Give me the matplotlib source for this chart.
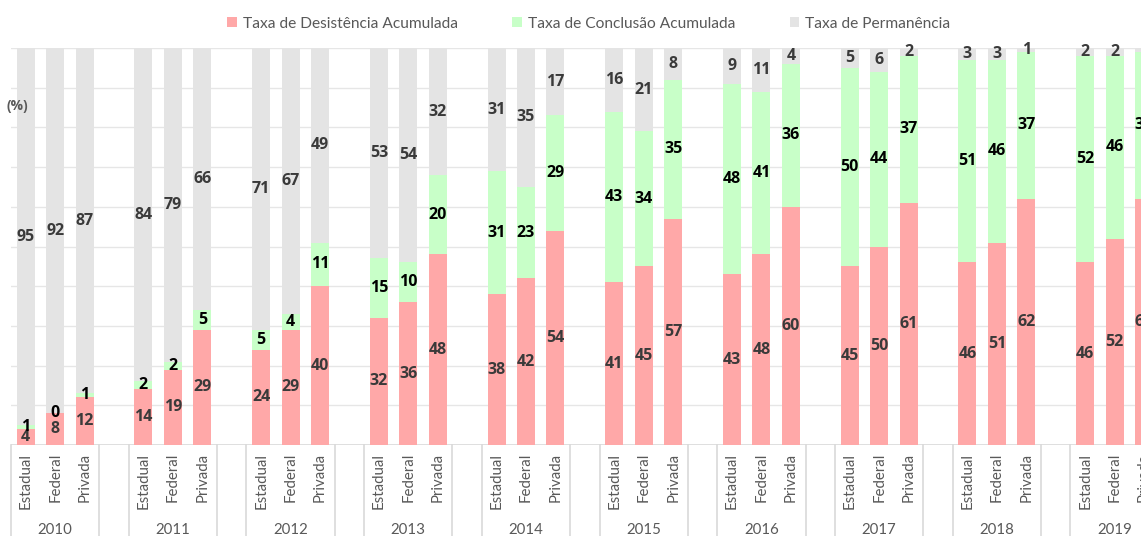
import matplotlib
matplotlib.use("Agg")
import matplotlib.pyplot as plt
import matplotlib.transforms as mtransforms
from matplotlib.patches import Patch

years = ["2010", "2011", "2012", "2013", "2014", "2015", "2016", "2017", "2018", "2019"]
categories = ["Estadual", "Federal", "Privada"]

# values per year, ordered Estadual, Federal, Privada
desistencia = [[4, 8, 12], [14, 19, 29], [24, 29, 40], [32, 36, 48], [38, 42, 54],
               [41, 45, 57], [43, 48, 60], [45, 50, 61], [46, 51, 62], [46, 52, 62]]
conclusao = [[1, 0, 1], [2, 2, 5], [5, 4, 11], [15, 10, 20], [31, 23, 29],
             [43, 34, 35], [48, 41, 36], [50, 44, 37], [51, 46, 37], [52, 46, 37]]
permanencia = [[95, 92, 87], [84, 79, 66], [71, 67, 49], [53, 54, 32], [31, 35, 17],
               [16, 21, 8], [9, 11, 4], [5, 6, 2], [3, 3, 1], [2, 2, 1]]

series_names = ["Taxa de Desistência Acumulada", "Taxa de Conclusão Acumulada", "Taxa de Permanência"]
colors = ["#FFA8A8", "#C8FFC8", "#E4E4E4"]
label_colors = ["#3A3A3A", "#000000", "#3A3A3A"]

W, H = 1141, 536
fig = plt.figure(figsize=(W / 100, H / 100), dpi=100)
slot = 29.43
left_px, top_px, bottom_px = 11, 48, 445
ax = fig.add_axes([left_px / W, (H - bottom_px) / H, 40 * slot / W, (bottom_px - top_px) / H])
ax.set_xlim(-0.5, 39.5)
ax.set_ylim(0, 100)

label_font = dict(family="Open Sans", fontstretch="condensed", fontweight="bold", fontsize=11.5)
text_font = "Lato"

for i, yr in enumerate(years):
    for j, cat in enumerate(categories):
        x = 4 * i + j
        vals = [desistencia[i][j], conclusao[i][j], permanencia[i][j]]
        bottom = 0
        for k, v in enumerate(vals):
            ax.bar(x, v, bottom=bottom, width=0.61, color=colors[k], zorder=2)
            ax.text(x, bottom + v / 2, str(v), ha="center", va="center",
                    color=label_colors[k], zorder=3, **label_font)
            bottom += v

# grid
for g in range(10, 101, 10):
    ax.axhline(g, color="#E6E6E6", lw=1, zorder=1)
ax.axhline(0, color="#D9D9D9", lw=1.2, zorder=1)

for s in ax.spines.values():
    s.set_visible(False)
ax.set_xticks([])
ax.set_yticks([])

trans = mtransforms.blended_transform_factory(ax.transData, ax.transAxes)
for i, yr in enumerate(years):
    for j, cat in enumerate(categories):
        ax.text(4 * i + j, -0.02, cat, rotation=90, ha="center", va="top",
                transform=trans, color="#595959", fontsize=10.8, family=text_font, clip_on=False)
    ax.text(4 * i + 1, -0.215, yr, ha="center", va="center", transform=trans,
            color="#595959", fontsize=10.8, family=text_font, clip_on=False)
    for xb in (4 * i - 0.5, 4 * i + 2.5):
        ax.plot([xb, xb], [0, -0.3], transform=trans, color="#D9D9D9", lw=1.2, clip_on=False)

ax.text(-0.64, 85.5, "(%)", ha="left", va="center", color="#595959",
        clip_on=False, **dict(label_font, fontsize=10))

handles = [Patch(facecolor=c, edgecolor="none") for c in colors]
fig.legend(handles, series_names, loc="center", bbox_to_anchor=(0.516, 0.956), ncol=3,
           frameon=False, handlelength=0.6, handleheight=0.6, handletextpad=0.4,
           columnspacing=3.5, prop=dict(family=text_font, size=11.2), labelcolor="#595959")

fig.savefig("out.png", dpi=100)
